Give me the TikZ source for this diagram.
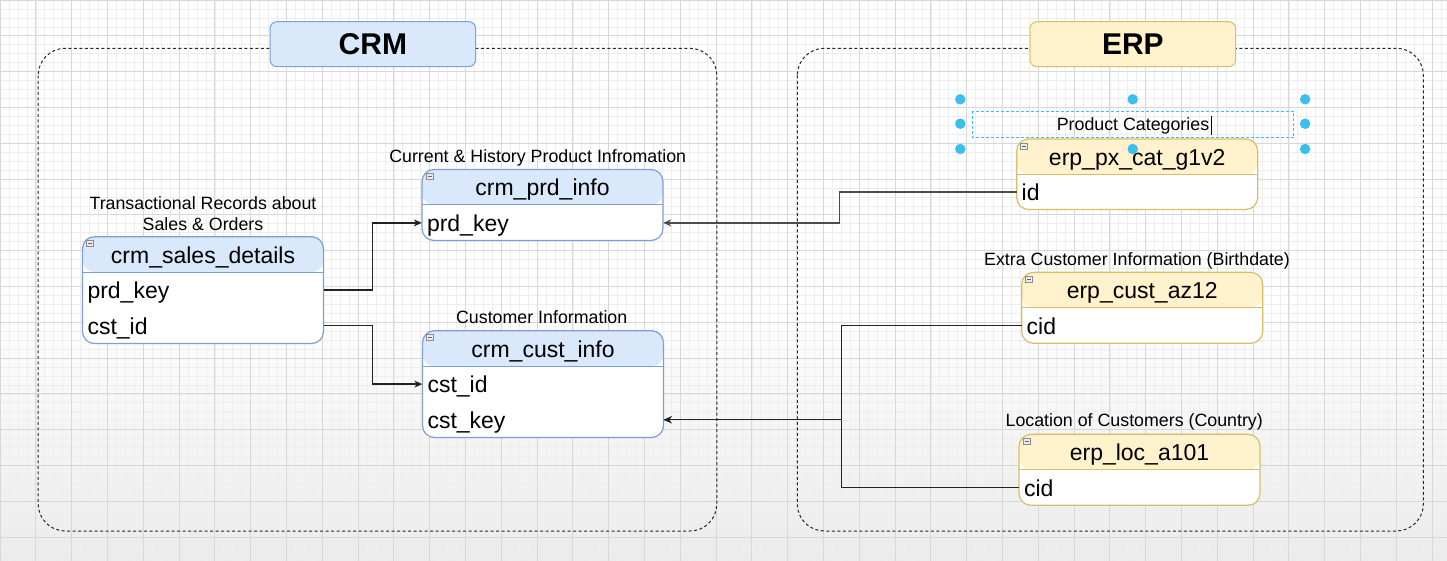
\documentclass[tikz,border=0pt]{standalone}
\usepackage{fontspec}
\setmainfont{Liberation Sans}
\usetikzlibrary{arrows.meta}
\definecolor{blueFill}{HTML}{DAE8FC}
\definecolor{blueLine}{HTML}{7F9FD0}
\definecolor{yelFill}{HTML}{FFF2CC}
\definecolor{yelLine}{HTML}{D8BE6A}
\definecolor{gridMinor}{HTML}{EEEEEE}
\definecolor{gridMajor}{HTML}{D8D8D8}
\definecolor{selBlue}{HTML}{3DBFEE}
\definecolor{connGray}{HTML}{222222}
\definecolor{bgGray}{HTML}{EBEBEB}
\tikzset{
  tblbase/.style={rectangle, rounded corners=12pt, minimum width=241pt, line width=1.2pt, fill=white, inner sep=0pt},
  hdrfill/.style 2 args={path picture={
      \fill[#1] (path picture bounding box.north west) rectangle ([yshift=-35.5pt]path picture bounding box.north east);
      \draw[#2, line width=1pt] ([yshift=-35.5pt]path picture bounding box.north west) -- ([yshift=-35.5pt]path picture bounding box.north east);}},
  bluetbl/.style={tblbase, draw=blueLine, hdrfill={blueFill}{blueLine}},
  yeltbl/.style={tblbase, draw=yelLine, hdrfill={yelFill}{yelLine}},
  tbltitle/.style={font=\fontsize{23}{27}\selectfont, text height=20pt, text depth=3pt, inner sep=0pt},
  fieldrow/.style={font=\fontsize{23}{27}\selectfont, text width=231pt, align=left, inner xsep=5pt, inner ysep=0pt, text height=20pt, text depth=3pt},
  caption/.style={font=\fontsize{17.8}{21}\selectfont, inner sep=0pt, text height=12.6pt, text depth=0pt},
  captiontwo/.style={font=\fontsize{17.8}{21}\selectfont, inner sep=0pt, align=center},
  groupbox/.style={draw=black!85, dash pattern=on 3pt off 2.5pt, line width=1pt, rounded corners=27pt},
  grouptitle/.style={rectangle, rounded corners=7pt, line width=1pt, minimum width=205.7pt, minimum height=45pt, font=\fontsize{30}{34}\selectfont\bfseries, inner sep=0pt, text height=21.6pt, text depth=0pt},
  collapse/.style={rectangle, draw=black!45, fill=black!8, line width=0.6pt, minimum width=7pt, minimum height=6pt, inner sep=0pt,
    path picture={\draw[black!60, line width=0.6pt] ([xshift=1.5pt]path picture bounding box.west) -- ([xshift=-1.5pt]path picture bounding box.east);}},
  conn/.style={draw=connGray, line width=1.3pt},
  arrowconn/.style={conn, -{Stealth[length=8pt, width=7pt]}},
  handle/.style={circle, fill=selBlue, minimum size=10.5pt, inner sep=0pt},
}
\begin{document}
\begin{tikzpicture}[x=1pt, y=-1pt]
\useasboundingbox (0,0) rectangle (1447,561);
% background
\fill[white] (0,0) rectangle (1447,561);
\shade[top color=white, bottom color=bgGray] (0,300) rectangle (1447,561);
\foreach \i in {0,...,162} {\draw[gridMinor, line width=0.6pt] (\i*8.95,0) -- (\i*8.95,561);}
\foreach \i in {0,...,63} {\draw[gridMinor, line width=0.6pt] (0,\i*8.95) -- (1447,\i*8.95);}
\foreach \i in {0,...,40} {\draw[gridMajor, line width=0.8pt] (\i*35.8,0) -- (\i*35.8,561);}
\foreach \i in {0,...,15} {\draw[gridMajor, line width=0.8pt] (0,\i*35.8) -- (1447,\i*35.8);}

% group containers
\draw[groupbox] (38.2,48.3) rectangle (716.8,531);
\draw[groupbox] (797.3,48.3) rectangle (1423.3,531);
\node[grouptitle, fill=blueFill, draw=blueLine] (crm) at (372.85,44.2) {CRM};
\node[grouptitle, fill=yelFill, draw=yelLine] (erp) at (1132.85,44.2) {ERP};

% ---------- CRM tables ----------
% crm_sales_details
\node[captiontwo] (salescap) at (203,214) {Transactional Records about\\ Sales \& Orders};
\node[bluetbl, minimum height=106.8pt] (sales) at (203,290.1) {};
\node[collapse] (salesicon) at (90,243.7) {};
\node[tbltitle] (salestitle) at (203,254.5) {crm\_sales\_details};
\node[fieldrow] (sales-prd) at (203,290.1) {prd\_key};
\node[fieldrow] (sales-cst) at (203,325.7) {cst\_id};

% crm_prd_info
\node[caption] (prdcap) at (537.7,156) {Current \& History Product Infromation};
\node[bluetbl, minimum height=71pt] (prd) at (542.5,205) {};
\node[collapse] (prdicon) at (429.5,176.5) {};
\node[tbltitle] (prdtitle) at (542.5,187.25) {crm\_prd\_info};
\node[fieldrow] (prd-prd) at (542.5,222.9) {prd\_key};

% crm_cust_info
\node[caption] (custcap) at (541.7,317.5) {Customer Information};
\node[bluetbl, minimum height=106.8pt] (cust) at (543,384.1) {};
\node[collapse] (custicon) at (430,337.7) {};
\node[tbltitle] (custtitle) at (543,348.5) {crm\_cust\_info};
\node[fieldrow] (cust-id) at (543,384.1) {cst\_id};
\node[fieldrow] (cust-key) at (543,419.8) {cst\_key};

% ---------- ERP tables ----------
% erp_px_cat_g1v2
\node[yeltbl, minimum height=70.5pt] (pxcat) at (1137.2,174.25) {};
\node[collapse] (pxcaticon) at (1024.2,146) {};
\node[tbltitle] (pxcattitle) at (1137.2,156.75) {erp\_px\_cat\_g1v2};
\node[fieldrow] (pxcat-id) at (1137.2,191.9) {id};

% erp_cust_az12
\node[caption] (az12cap) at (1137,259.3) {Extra Customer Information (Birthdate)};
\node[yeltbl, minimum height=71pt] (az12) at (1142.2,307.8) {};
\node[collapse] (az12icon) at (1029.2,279.3) {};
\node[tbltitle] (az12title) at (1142.2,290) {erp\_cust\_az12};
\node[fieldrow] (az12-cid) at (1142.2,325.6) {cid};

% erp_loc_a101
\node[caption] (a101cap) at (1134.2,420.5) {Location of Customers (Country)};
\node[yeltbl, minimum height=71pt] (a101) at (1139.5,469.8) {};
\node[collapse] (a101icon) at (1026.5,441.3) {};
\node[tbltitle] (a101title) at (1139.5,452) {erp\_loc\_a101};
\node[fieldrow] (a101-cid) at (1139.5,487.5) {cid};

% ---------- connectors ----------
\draw[arrowconn] (sales-prd.east) -- ++(49,0) |- (prd-prd.west);
\draw[arrowconn] (sales-cst.east) -- ++(49,0) |- (cust-id.west);
\draw[arrowconn, draw=black!70] (pxcat-id.west) -- ++(-176.7,0) |- (prd-prd.east);
\draw[arrowconn] (az12-cid.west) -- ++(-179.7,0) |- (cust-key.east);
\draw[arrowconn] (a101-cid.west) -- ++(-177,0) |- (cust-key.east);

% ---------- selected label (Product Categories) ----------
\draw[selBlue, dash pattern=on 3pt off 2pt, line width=0.9pt] (972.3,111) rectangle (1293.7,137.7);
\node[caption] (pcat) at (1133,124.3) {Product Categories};
\draw[black, line width=0.8pt] ([xshift=1.5pt,yshift=1.5pt]pcat.north east) -- ([xshift=1.5pt,yshift=-4pt]pcat.south east);
\node[handle] (h1) at (960.3,99.3) {};
\node[handle] (h2) at (1132.7,99.3) {};
\node[handle] (h3) at (1305.1,99.3) {};
\node[handle] (h4) at (960.3,123.7) {};
\node[handle] (h5) at (1305.1,123.7) {};
\node[handle] (h6) at (960.3,149) {};
\node[handle] (h7) at (1132.7,149) {};
\node[handle] (h8) at (1305.1,149) {};
\end{tikzpicture}
\end{document}
